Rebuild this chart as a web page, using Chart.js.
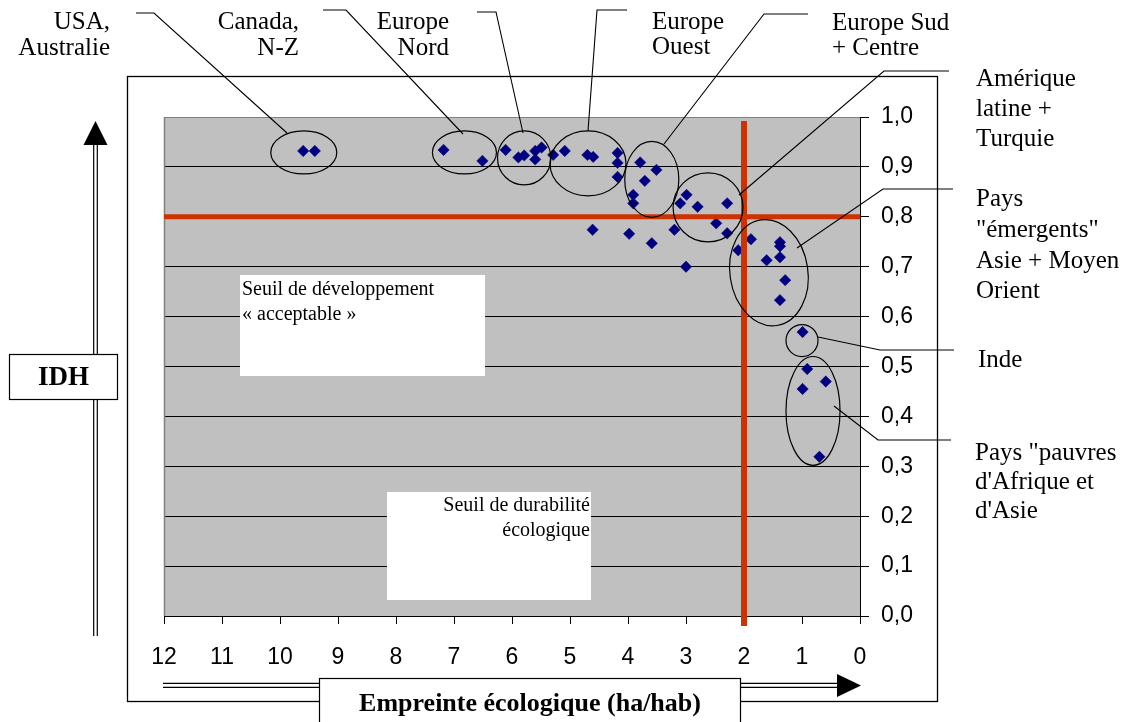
<!DOCTYPE html>
<html><head><meta charset="utf-8">
<script src="https://cdn.jsdelivr.net/npm/chart.js@4.4.0/dist/chart.umd.min.js"></script>
<style>html,body{margin:0;padding:0;background:#fff;overflow:hidden}canvas{display:block}</style>
</head><body>
<canvas id="c" width="1125" height="722"></canvas>
<script>
// ---- Data ----
// Empreinte écologique (ha/hab)
const footprint = [
  9.60, 9.40,                               // USA, Australie
  7.18, 6.51,                               // Canada, N-Z
  6.11, 5.89, 5.79, 5.60, 5.60, 5.49,       // Europe Nord
  5.29, 5.09, 4.70, 4.60, 4.18, 4.18, 4.18, // Europe Ouest
  3.79, 3.51, 3.71, 3.91, 3.91,             // Europe Sud + Centre
  2.99, 3.10, 2.80, 2.29, 2.48, 2.29,       // Amérique latine + Turquie
  4.61, 3.98, 3.59, 3.20, 3.00,             // autres
  2.10, 1.88, 1.38, 1.38, 1.38, 1.61, 1.29, 1.38, // Pays émergents
  0.99,                                     // Inde
  0.91, 0.59, 0.99, 0.70                    // Pays pauvres
];
// IDH
const hdi = [
  0.932, 0.932,
  0.934, 0.912,
  0.934, 0.919, 0.923, 0.932, 0.915, 0.939,
  0.924, 0.932, 0.924, 0.920, 0.928, 0.908, 0.880,
  0.909, 0.894, 0.872, 0.844, 0.827,
  0.844, 0.827, 0.820, 0.827, 0.787, 0.767,
  0.774, 0.766, 0.747, 0.774, 0.700,
  0.733, 0.755, 0.749, 0.741, 0.719, 0.713, 0.673, 0.633,
  0.569,
  0.495, 0.470, 0.455, 0.319
];
const xTickValues = [12, 11, 10, 9, 8, 7, 6, 5, 4, 3, 2, 1, 0];
const yTickLabels = ['0,0','0,1','0,2','0,3','0,4','0,5','0,6','0,7','0,8','0,9','1,0'];
const thresholdFootprint = 2;   // seuil de durabilité écologique
const thresholdHdi = 0.8;       // seuil de développement acceptable

// ---- Annotations (group ellipses in data units) ----
const groupEllipses = [
  {cx: 9.59, cy: 0.929, rx: 0.569, ry: 0.0431, rot: 0},
  {cx: 6.82, cy: 0.929, rx: 0.552, ry: 0.0431, rot: 0},
  {cx: 5.79, cy: 0.918, rx: 0.460, ry: 0.0541, rot: 0},
  {cx: 4.69, cy: 0.907, rx: 0.655, ry: 0.0651, rot: 0},
  {cx: 3.59, cy: 0.875, rx: 0.466, ry: 0.0762, rot: 0},
  {cx: 2.62, cy: 0.819, rx: 0.603, ry: 0.0691, rot: 0},
  {cx: 1.57, cy: 0.688, rx: 0.672, ry: 0.107, rot: -0.15},
  {cx: 1.00, cy: 0.552, rx: 0.276, ry: 0.0321, rot: 0},
  {cx: 0.81, cy: 0.411, rx: 0.466, ry: 0.109, rot: 0}
];
const callouts = [
  [[136,13],[154,13],[287,133]],
  [[323,10],[346,10],[463,134]],
  [[477,12],[496,12],[523,133]],
  [[627,10],[597,10],[588,131]],
  [[808,14],[764,14],[664,144]],
  [[949,71],[884,71],[739,195]],
  [[953,189],[883,189],[797,248]],
  [[954,350],[880,350],[818,337]],
  [[951,440],[878,440],[834,406]]
];
const groupLabels = [
  {x:110, align:'right', lines:[['USA,',29],['Australie',55]]},
  {x:299, align:'right', lines:[['Canada,',29],['N-Z',55]]},
  {x:449, align:'right', lines:[['Europe',29],['Nord',55]]},
  {x:652, align:'left', lines:[['Europe',29],['Ouest',54]]},
  {x:832, align:'left', lines:[['Europe Sud',30],['+ Centre',55]]},
  {x:976, align:'left', lines:[['Amérique',86],['latine +',116],['Turquie',146]]},
  {x:976, align:'left', lines:[['Pays',206],['"émergents"',237],['Asie + Moyen',268],['Orient',298]]},
  {x:978, align:'left', lines:[['Inde',367]]},
  {x:975, align:'left', lines:[['Pays "pauvres',460],["d'Afrique et",489],["d'Asie",518]]}
];

const points = footprint.map((v, i) => ({x: v, y: hdi[i]}));
const SERIF = '"Liberation Serif", "Times New Roman", serif';
const SANS = '"Liberation Sans", Arial, sans-serif';

const decor = {
  id: 'decor',
  beforeDraw(chart) {
    const c = chart.ctx, a = chart.chartArea;
    c.save();
    c.fillStyle = '#fff';
    c.fillRect(0, 0, chart.width, chart.height);
    c.fillStyle = '#C0C0C0';
    c.fillRect(a.left, a.top, a.right - a.left, a.bottom - a.top);
    c.restore();
  },
  beforeDatasetsDraw(chart) {
    const c = chart.ctx, a = chart.chartArea;
    c.save();
    c.strokeStyle = '#808080'; c.lineWidth = 1.5;
    c.beginPath(); c.moveTo(a.left + 0.5, a.top); c.lineTo(a.left + 0.5, a.bottom); c.stroke();
    c.fillStyle = '#fff';
    c.fillRect(240, 275, 245, 101);
    c.fillRect(387, 492, 204, 108);
    c.fillStyle = '#000';
    c.font = '20px ' + SERIF;
    c.textBaseline = 'alphabetic';
    c.textAlign = 'left';
    c.fillText('Seuil de développement', 242, 295);
    c.fillText('« acceptable »', 242, 320);
    c.textAlign = 'right';
    c.fillText('Seuil de durabilité', 590, 511);
    c.fillText('écologique', 590, 536);
    c.restore();
  },
  afterDatasetsDraw(chart) {
    const c = chart.ctx, xs = chart.scales.x, ys = chart.scales.y;
    c.save();
    c.strokeStyle = '#000'; c.lineWidth = 1.2;
    groupEllipses.forEach(e => {
      const px = xs.getPixelForValue(e.cx), py = ys.getPixelForValue(e.cy);
      const rx = Math.abs(xs.getPixelForValue(e.cx + e.rx) - px);
      const ry = Math.abs(ys.getPixelForValue(e.cy + e.ry) - py);
      c.beginPath(); c.ellipse(px, py, rx, ry, e.rot, 0, Math.PI * 2); c.stroke();
    });
    c.restore();
  },
  afterDraw(chart) {
    const c = chart.ctx;
    c.save();
    c.strokeStyle = '#000'; c.lineWidth = 1.3;
    c.strokeRect(127.5, 76.5, 810, 625);
    c.lineWidth = 1.1;
    callouts.forEach(pl => {
      c.beginPath(); c.moveTo(pl[0][0], pl[0][1]);
      for (let i = 1; i < pl.length; i++) c.lineTo(pl[i][0], pl[i][1]);
      c.stroke();
    });
    c.lineWidth = 1.2;
    c.beginPath();
    c.moveTo(93.7, 145); c.lineTo(93.7, 636);
    c.moveTo(97.3, 145); c.lineTo(97.3, 636);
    c.stroke();
    c.fillStyle = '#000';
    c.beginPath(); c.moveTo(95.5, 121); c.lineTo(107.5, 145); c.lineTo(83.5, 145); c.closePath(); c.fill();
    c.beginPath();
    c.moveTo(163, 683.3); c.lineTo(840, 683.3);
    c.moveTo(163, 687.3); c.lineTo(840, 687.3);
    c.stroke();
    c.beginPath(); c.moveTo(837, 674); c.lineTo(861, 685.5); c.lineTo(837, 697); c.closePath(); c.fill();
    c.fillStyle = '#fff';
    c.fillRect(9.5, 354.5, 108, 45);
    c.strokeRect(9.5, 354.5, 108, 45);
    c.fillStyle = '#000';
    c.font = 'bold 27px ' + SERIF;
    c.textAlign = 'center'; c.textBaseline = 'middle';
    c.fillText('IDH', 63.5, 378);
    c.fillStyle = '#fff';
    c.fillRect(319.5, 678.5, 421, 50);
    c.strokeRect(319.5, 678.5, 421, 50);
    c.fillStyle = '#000';
    c.font = 'bold 26px ' + SERIF;
    c.textBaseline = 'alphabetic';
    c.fillText('Empreinte écologique (ha/hab)', 530, 711);
    c.font = '25px ' + SERIF;
    groupLabels.forEach(g => {
      c.textAlign = g.align;
      g.lines.forEach(l => c.fillText(l[0], g.x, l[1]));
    });
    c.restore();
  }
};

new Chart(document.getElementById('c'), {
  type: 'scatter',
  data: {
    datasets: [
      { type: 'line', data: [{x: thresholdFootprint, y: 0.992}, {x: thresholdFootprint, y: -0.02}],
        borderColor: '#CC3300', borderWidth: 6, pointRadius: 0, clip: false, order: 0 },
      { type: 'line', data: [{x: 12, y: thresholdHdi}, {x: -0.005, y: thresholdHdi}],
        borderColor: '#CC3300', borderWidth: 5, pointRadius: 0, clip: false, order: 0 },
      { data: points, pointStyle: 'rectRot', pointRadius: 5.7, pointHoverRadius: 5.7,
        backgroundColor: '#000080', borderColor: '#000080', borderWidth: 0.5, order: 1 }
    ]
  },
  options: {
    responsive: false, animation: false, events: [],
    layout: {padding: {left: 164, top: 117, right: 205, bottom: 56}},
    plugins: {legend: {display: false}, tooltip: {enabled: false}},
    scales: {
      x: {
        type: 'linear', reverse: true, min: 0, max: 12, position: 'bottom',
        afterFit(s) { s.height = 50; },
        afterBuildTicks(s) { s.ticks = xTickValues.map(v => ({value: v})); },
        ticks: {stepSize: 1, color: '#000', padding: 20, maxRotation: 0, autoSkip: false,
                font: {family: SANS, size: 23}},
        grid: {drawOnChartArea: false, drawTicks: true, tickLength: 8, color: '#000', lineWidth: 1},
        border: {display: true, color: '#000', width: 1}
      },
      y: {
        type: 'linear', min: 0, max: 1, position: 'right',
        afterFit(s) { s.width = 60; },
        ticks: {stepSize: 0.1, color: '#000', padding: 12, font: {family: SANS, size: 23},
                callback: (v, i) => yTickLabels[i]},
        grid: {color: c => (c.tick && c.tick.value > 0.999) ? '#808080' : '#000',
               lineWidth: 1, tickLength: 9, tickColor: '#000'},
        border: {display: true, color: '#000', width: 1}
      }
    }
  },
  plugins: [decor]
});
</script>
</body></html>
